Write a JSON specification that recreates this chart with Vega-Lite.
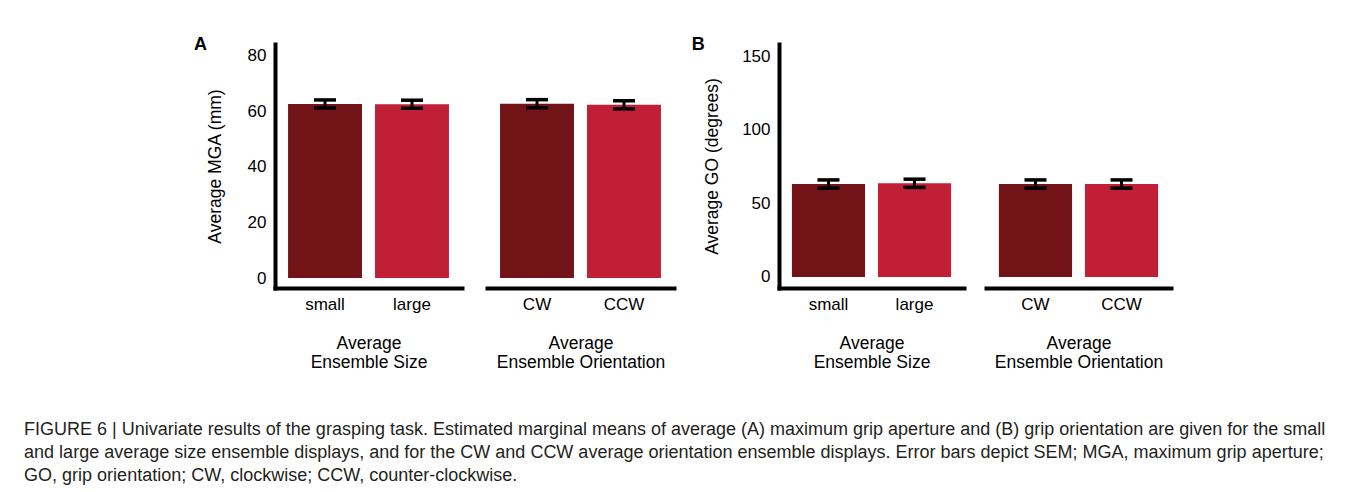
{
  "$schema": "https://vega.github.io/schema/vega-lite/v6.json",
  "padding": {"left": 24, "top": 36, "right": 0, "bottom": 0},
  "autosize": {"type": "pad"},
  "background": "white",
  "datasets": {
    "mga": [
      {"group": "size", "cond": "small", "mean": 62.7, "lo": 61.25, "hi": 64.15},
      {"group": "size", "cond": "large", "mean": 62.6, "lo": 61.15, "hi": 64.05},
      {"group": "orient", "cond": "CW", "mean": 62.8, "lo": 61.35, "hi": 64.25},
      {"group": "orient", "cond": "CCW", "mean": 62.4, "lo": 60.95, "hi": 63.85}
    ],
    "go": [
      {"group": "size", "cond": "small", "mean": 63.1, "lo": 60.3, "hi": 65.9},
      {"group": "size", "cond": "large", "mean": 63.6, "lo": 60.8, "hi": 66.4},
      {"group": "orient", "cond": "CW", "mean": 63.1, "lo": 60.3, "hi": 65.9},
      {"group": "orient", "cond": "CCW", "mean": 63.1, "lo": 60.3, "hi": 65.9}
    ]
  },
  "config": {
    "view": {"stroke": null},
    "font": "Liberation Sans",
    "axis": {
      "domainColor": "black", "domainWidth": 4, "domainCap": "square",
      "ticks": false, "tickSize": 0, "grid": false,
      "labelFont": "Liberation Sans", "labelFontSize": 17, "labelColor": "black",
      "titleFont": "Liberation Sans", "titleFontSize": 17.5, "titleFontWeight": "normal", "titleColor": "black"
    },
    "axisX": {"labelAngle": 0, "labelPadding": 8, "titlePadding": 22, "titleLineHeight": 19},
    "axisY": {"labelPadding": 9, "titlePadding": 23},
    "tick": {"opacity": 1},
    "rule": {"opacity": 1}
  },
  "title": {
    "text": [
      "FIGURE 6 | Univariate results of the grasping task. Estimated marginal means of average (A) maximum grip aperture and (B) grip orientation are given for the small",
      "and large average size ensemble displays, and for the CW and CCW average orientation ensemble displays. Error bars depict SEM; MGA, maximum grip aperture;",
      "GO, grip orientation; CW, clockwise; CCW, counter-clockwise."
    ],
    "orient": "bottom", "anchor": "start", "frame": "bounds", "offset": 50, "dx": -170,
    "fontSize": 18, "fontWeight": "normal", "lineHeight": 23, "color": "#231f20", "font": "Liberation Sans"
  },
  "spacing": 17,
  "hconcat": [
    {
      "spacing": 25,
      "hconcat": [
        {
          "width": 187, "height": 244,
          "title": {"text": "A", "anchor": "start", "frame": "bounds", "orient": "top", "offset": -10, "dx": -12, "fontSize": 18, "fontWeight": "bold", "color": "black"},
          "data": {"name": "mga"},
          "transform": [{"filter": "datum.group === 'size'"}],
          "encoding": {
            "x": {"field": "cond", "type": "nominal", "sort": ["small", "large"], "scale": {"paddingInner": 0.15, "paddingOuter": 0.15}, "axis": {"title": ["Average", "Ensemble Size"]}}
          },
          "layer": [
            {"mark": {"type": "bar"}, "encoding": {
              "y": {"field": "mean", "type": "quantitative", "scale": {"domain": [-3.6, 84.3], "nice": false, "zero": false}, "axis": {"values": [0, 20, 40, 60, 80], "title": "Average MGA (mm)"}},
              "y2": {"datum": 0},
              "color": {"field": "cond", "type": "nominal", "scale": {"domain": ["small", "large", "CW", "CCW"], "range": ["#721417", "#c01f35", "#721417", "#c01f35"]}, "legend": null}}},
            {"mark": {"type": "rule", "strokeWidth": 3, "color": "black", "opacity": 1}, "encoding": {"y": {"field": "lo", "type": "quantitative"}, "y2": {"field": "hi"}}},
            {"mark": {"type": "tick", "size": 22, "thickness": 3.5, "color": "black", "opacity": 1}, "encoding": {"y": {"field": "lo", "type": "quantitative"}}},
            {"mark": {"type": "tick", "size": 22, "thickness": 3.5, "color": "black", "opacity": 1}, "encoding": {"y": {"field": "hi", "type": "quantitative"}}}
          ]
        },
        {
          "width": 187, "height": 244,
          "data": {"name": "mga"},
          "transform": [{"filter": "datum.group === 'orient'"}],
          "encoding": {
            "x": {"field": "cond", "type": "nominal", "sort": ["CW", "CCW"], "scale": {"paddingInner": 0.15, "paddingOuter": 0.15}, "axis": {"title": ["Average", "Ensemble Orientation"]}}
          },
          "layer": [
            {"mark": {"type": "bar"}, "encoding": {
              "y": {"field": "mean", "type": "quantitative", "scale": {"domain": [-3.6, 84.3], "nice": false, "zero": false}, "axis": null},
              "y2": {"datum": 0},
              "color": {"field": "cond", "type": "nominal", "scale": {"domain": ["small", "large", "CW", "CCW"], "range": ["#721417", "#c01f35", "#721417", "#c01f35"]}, "legend": null}}},
            {"mark": {"type": "rule", "strokeWidth": 3, "color": "black", "opacity": 1}, "encoding": {"y": {"field": "lo", "type": "quantitative"}, "y2": {"field": "hi"}}},
            {"mark": {"type": "tick", "size": 22, "thickness": 3.5, "color": "black", "opacity": 1}, "encoding": {"y": {"field": "lo", "type": "quantitative"}}},
            {"mark": {"type": "tick", "size": 22, "thickness": 3.5, "color": "black", "opacity": 1}, "encoding": {"y": {"field": "hi", "type": "quantitative"}}}
          ]
        }
      ]
    },
    {
      "spacing": 22,
      "hconcat": [
        {
          "width": 185, "height": 244,
          "title": {"text": "B", "anchor": "start", "frame": "bounds", "orient": "top", "offset": -10, "dx": -12, "fontSize": 18, "fontWeight": "bold", "color": "black"},
          "data": {"name": "go"},
          "transform": [{"filter": "datum.group === 'size'"}],
          "encoding": {
            "x": {"field": "cond", "type": "nominal", "sort": ["small", "large"], "scale": {"paddingInner": 0.15, "paddingOuter": 0.15}, "axis": {"title": ["Average", "Ensemble Size"]}}
          },
          "layer": [
            {"mark": {"type": "bar"}, "encoding": {
              "y": {"field": "mean", "type": "quantitative", "scale": {"domain": [-7.5, 158.2], "nice": false, "zero": false}, "axis": {"values": [0, 50, 100, 150], "title": "Average GO (degrees)", "titlePadding": 20}},
              "y2": {"datum": 0},
              "color": {"field": "cond", "type": "nominal", "scale": {"domain": ["small", "large", "CW", "CCW"], "range": ["#721417", "#c01f35", "#721417", "#c01f35"]}, "legend": null}}},
            {"mark": {"type": "rule", "strokeWidth": 3, "color": "black", "opacity": 1}, "encoding": {"y": {"field": "lo", "type": "quantitative"}, "y2": {"field": "hi"}}},
            {"mark": {"type": "tick", "size": 22, "thickness": 3.5, "color": "black", "opacity": 1}, "encoding": {"y": {"field": "lo", "type": "quantitative"}}},
            {"mark": {"type": "tick", "size": 22, "thickness": 3.5, "color": "black", "opacity": 1}, "encoding": {"y": {"field": "hi", "type": "quantitative"}}}
          ]
        },
        {
          "width": 185, "height": 244,
          "data": {"name": "go"},
          "transform": [{"filter": "datum.group === 'orient'"}],
          "encoding": {
            "x": {"field": "cond", "type": "nominal", "sort": ["CW", "CCW"], "scale": {"paddingInner": 0.15, "paddingOuter": 0.15}, "axis": {"title": ["Average", "Ensemble Orientation"]}}
          },
          "layer": [
            {"mark": {"type": "bar"}, "encoding": {
              "y": {"field": "mean", "type": "quantitative", "scale": {"domain": [-7.5, 158.2], "nice": false, "zero": false}, "axis": null},
              "y2": {"datum": 0},
              "color": {"field": "cond", "type": "nominal", "scale": {"domain": ["small", "large", "CW", "CCW"], "range": ["#721417", "#c01f35", "#721417", "#c01f35"]}, "legend": null}}},
            {"mark": {"type": "rule", "strokeWidth": 3, "color": "black", "opacity": 1}, "encoding": {"y": {"field": "lo", "type": "quantitative"}, "y2": {"field": "hi"}}},
            {"mark": {"type": "tick", "size": 22, "thickness": 3.5, "color": "black", "opacity": 1}, "encoding": {"y": {"field": "lo", "type": "quantitative"}}},
            {"mark": {"type": "tick", "size": 22, "thickness": 3.5, "color": "black", "opacity": 1}, "encoding": {"y": {"field": "hi", "type": "quantitative"}}}
          ]
        }
      ]
    }
  ]
}
